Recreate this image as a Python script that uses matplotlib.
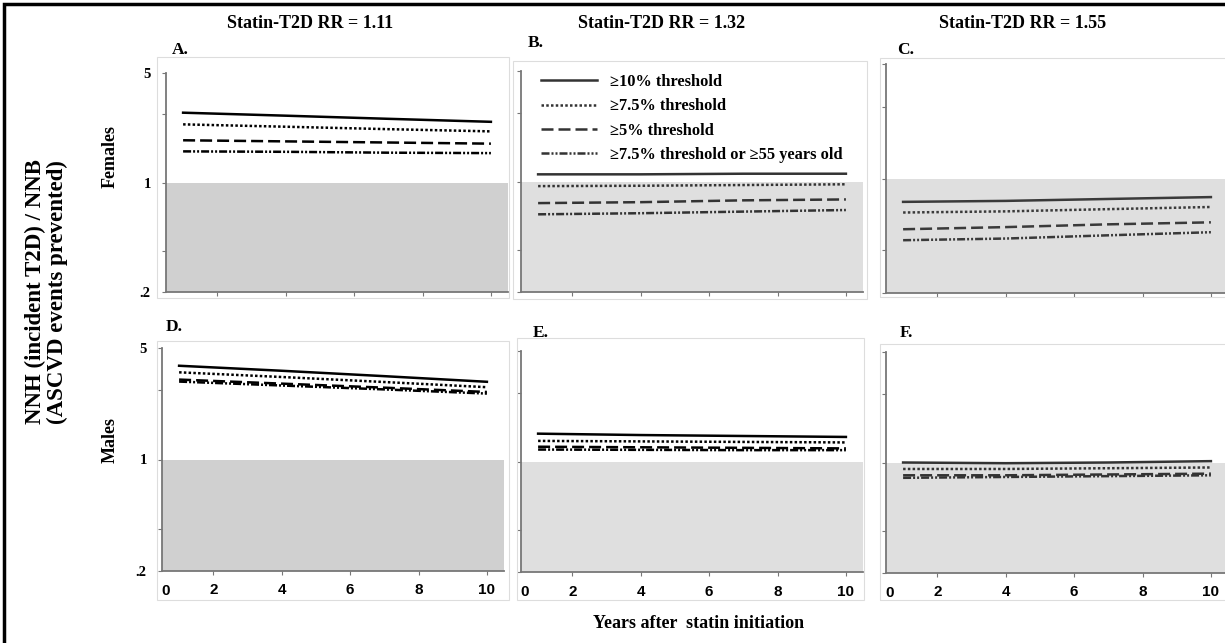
import matplotlib.pyplot as plt
from matplotlib.patches import Rectangle
from matplotlib.transforms import blended_transform_factory

plt.rcParams['font.family'] = ['Liberation Serif', 'DejaVu Serif']

# %% data: NNH/NNB ratio by years after statin start
years = [1, 4, 7, 10]
series_labels = ['≥10% threshold', '≥7.5% threshold', '≥5% threshold',
                 '≥7.5% threshold or ≥55 years old']
rr_titles = ['Statin-T2D RR = 1.11', 'Statin-T2D RR = 1.32',
             'Statin-T2D RR = 1.55']
row_labels = ['Females', 'Males']
panel_letters = ['A.', 'B.', 'C.', 'D.', 'E.', 'F.']
xtick_vals = [2, 4, 6, 8, 10]
xtick_text = ['2', '4', '6', '8', '10']
ytick_vals = [0.2, 0.368, 1, 2.72, 5]
ytick_text = ['.2', '', '1', '', '5']

fem_rr111 = [[2.79, 2.67, 2.55, 2.44],
             [2.35, 2.27, 2.19, 2.12],
             [1.86, 1.83, 1.80, 1.77],
             [1.58, 1.57, 1.55, 1.54]]
fem_rr132 = [[1.11, 1.11, 1.12, 1.12],
             [0.935, 0.94, 0.95, 0.96],
             [0.73, 0.74, 0.76, 0.77],
             [0.62, 0.63, 0.645, 0.66]]
fem_rr155 = [[0.72, 0.73, 0.75, 0.77],
             [0.62, 0.63, 0.65, 0.67],
             [0.49, 0.505, 0.525, 0.54],
             [0.42, 0.43, 0.45, 0.47]]
male_rr111 = [[3.87, 3.60, 3.33, 3.07],
              [3.52, 3.29, 3.06, 2.84],
              [3.17, 2.99, 2.82, 2.65],
              [3.08, 2.91, 2.75, 2.59]]
male_rr132 = [[1.50, 1.47, 1.45, 1.43],
              [1.35, 1.34, 1.33, 1.32],
              [1.24, 1.23, 1.22, 1.21],
              [1.19, 1.185, 1.18, 1.18]]
male_rr155 = [[1.00, 0.99, 1.00, 1.02],
              [0.91, 0.91, 0.92, 0.93],
              [0.83, 0.83, 0.84, 0.85],
              [0.80, 0.81, 0.82, 0.83]]

panel_data = [fem_rr111, fem_rr132, fem_rr155,
              male_rr111, male_rr132, male_rr155]

W, H = 1225, 643
fig = plt.figure(figsize=(W / 100, H / 100), dpi=100)


def fx(px):
    return px / W


def fy(py):
    return 1 - py / H


# axes boxes in pixels: left, top, right, bottom
boxes = [(166, 73, 508, 292), (521, 71, 863, 292), (886, 64, 1228, 293),
         (162, 348, 504, 571), (521, 351, 863, 572), (886, 352, 1228, 573)]
# faint outline around each panel
frames = [(157, 57, 509, 298), (513, 61, 867, 299), (880, 58, 1230, 297),
          (157, 341, 509, 600), (517, 338, 864, 600), (880, 344, 1230, 600)]
letter_pos = [(172, 50), (528, 43), (897, 50), (166, 327), (533, 333),
              (900, 333)]
shade = ['#d0d0d0', '#dfdfdf', '#dfdfdf', '#d0d0d0', '#dfdfdf', '#dfdfdf']
ink = ['black', '#333333', '#3a3a3a', 'black', 'black', '#333333']
styles = ['-', (0, (1, 0.9)), (0, (4.8, 2)),
          (0, (3.2, 0.8, 0.8, 0.8, 0.8, 0.8))]
spine_c = '#777777'

for fl, ft, fr, fb in frames:
    fig.add_artist(Rectangle((fx(fl), fy(fb)), fx(fr - fl), (fb - ft) / H,
                             transform=fig.transFigure, fill=False,
                             edgecolor='#dddddd', linewidth=0.8))

axs = []
for i, (l, t, r, b) in enumerate(boxes):
    ax = fig.add_axes([fx(l), fy(b), fx(r - l), (b - t) / H])
    axs.append(ax)
    ax.set_yscale('log')
    ax.axhspan(0.2, 1, color=shade[i], linewidth=0, zorder=0)
    for k in range(4):
        ax.plot(years, panel_data[i][k], linestyle=styles[k], color=ink[i],
                linewidth=1.8, label=series_labels[k])
    ax.set_xlim(0.5, 10.5)
    ax.set_ylim(0.2, 5)
    for side in ['top', 'right']:
        ax.spines[side].set_visible(False)
    for side in ['left', 'bottom']:
        ax.spines[side].set_color(spine_c)
        ax.spines[side].set_linewidth(1.3)
    ax.set_yticks(ytick_vals)
    ax.set_yticks([], minor=True)
    ax.set_xticks(xtick_vals)
    ax.tick_params(length=3, width=0.8, color=spine_c)
    if i % 3 == 0:
        ax.set_yticklabels(ytick_text, fontsize=10.5, fontweight='bold')
        ax.tick_params(axis='y', pad=8)
    else:
        ax.set_yticklabels([])
    if i >= 3:
        ax.set_xticklabels(xtick_text, fontsize=11, fontweight='bold',
                           family='Liberation Sans')
        ax.tick_params(axis='x', pad=6)
        trans = blended_transform_factory(ax.transData, ax.transAxes)
        ax.text(0.62, -0.058, '0', transform=trans, ha='center', va='top',
                fontsize=11, fontweight='bold', family='Liberation Sans')
    else:
        ax.set_xticklabels([])
    lx, ly = letter_pos[i]
    fig.text(fx(lx), fy(ly), panel_letters[i], fontsize=12.5,
             fontweight='bold', ha='left', va='center')

axs[1].legend(loc='upper left', bbox_to_anchor=(0.03, 1.03), frameon=False,
              prop={'weight': 'bold', 'size': 11.8}, handlelength=3.4,
              handletextpad=0.8, labelspacing=0.5, borderaxespad=0.2)

for cx, title in zip([310, 662, 1023], rr_titles):
    fig.text(fx(cx), fy(23), title, fontsize=13, fontweight='bold',
             ha='center', va='center')

fig.text(fx(110), fy(157), row_labels[0], rotation=90, fontsize=13,
         fontweight='bold', ha='center', va='center')
fig.text(fx(110), fy(440), row_labels[1], rotation=90, fontsize=13,
         fontweight='bold', ha='center', va='center')
fig.text(fx(46), fy(292), 'NNH (incident T2D) / NNB\n(ASCVD events prevented)',
         rotation=90, fontsize=16.5, fontweight='bold', ha='center',
         va='center', multialignment='center', linespacing=1.05)
fig.text(fx(699), fy(623), 'Years after  statin initiation', fontsize=13,
         fontweight='bold', ha='center', va='center')

# outer border (left and top edges)
fig.add_artist(Rectangle((fx(4), -0.1), 1.2, fy(4) + 0.1,
                         transform=fig.transFigure, fill=False,
                         edgecolor='black', linewidth=2.5))

fig.savefig('out.png', dpi=100)
